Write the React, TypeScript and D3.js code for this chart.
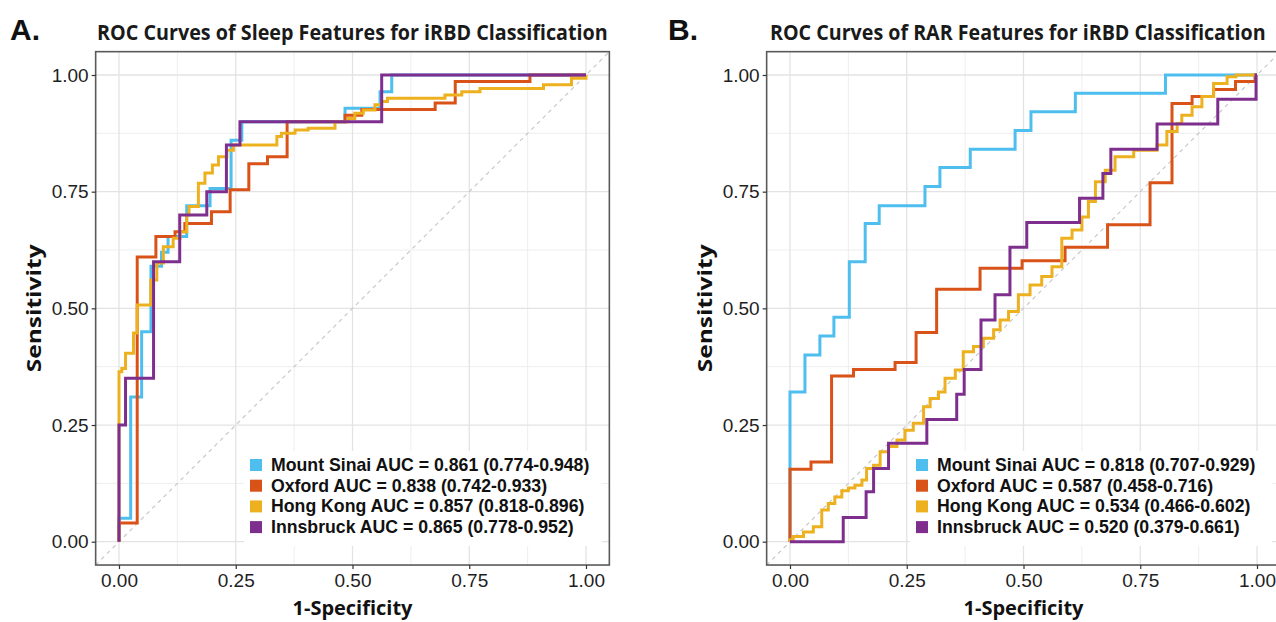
import React, { useEffect, useRef } from 'react';
import * as d3 from 'd3';

const W = 1276;
const H = 622;

const sites = ['Mount Sinai', 'Oxford', 'Hong Kong', 'Innsbruck'];
const siteColors = ['#4DBEEE', '#D95319', '#EDB120', '#7E2F8E'];
const majorTicks = [0, 0.25, 0.5, 0.75, 1];
const minorTicks = [0.125, 0.375, 0.625, 0.875];

// A. sleep features
const sleepAuc = ['0.861 (0.774-0.948)', '0.838 (0.742-0.933)', '0.857 (0.818-0.896)', '0.865 (0.778-0.952)'];
const sleepSinaiFpr = [0, 0.025, 0.0485, 0.0685, 0.091, 0.105, 0.145, 0.195, 0.24, 0.263, 0.484, 0.559, 0.584, 1];
const sleepSinaiTpr = [0, 0.05, 0.31, 0.45, 0.59, 0.62, 0.654, 0.72, 0.757, 0.86, 0.9, 0.929, 0.964, 1];
const sleepOxfordFpr = [0, 0.039, 0.079, 0.12, 0.141, 0.198, 0.238, 0.278, 0.318, 0.36, 0.484, 0.52, 0.677, 0.72, 0.88, 1];
const sleepOxfordTpr = [0, 0.04, 0.61, 0.654, 0.664, 0.682, 0.707, 0.754, 0.81, 0.825, 0.9, 0.914, 0.926, 0.94, 0.986, 1];
const sleepHongKongFpr = [0, 0.006, 0.014, 0.031, 0.039, 0.068, 0.081, 0.095, 0.116, 0.131, 0.145, 0.15, 0.17, 0.184, 0.2, 0.213, 0.231, 0.245, 0.259, 0.338, 0.348, 0.377, 0.405, 0.4625, 0.491, 0.505, 0.523, 0.548, 0.5625, 0.575, 0.698, 0.734, 0.773, 0.909, 0.969, 1, 1];
const sleepHongKongTpr = [0, 0.364, 0.371, 0.404, 0.447, 0.507, 0.561, 0.597, 0.632, 0.65, 0.664, 0.7, 0.718, 0.768, 0.79, 0.807, 0.825, 0.839, 0.85, 0.85, 0.868, 0.875, 0.882, 0.886, 0.9, 0.907, 0.918, 0.925, 0.936, 0.943, 0.95, 0.957, 0.964, 0.971, 0.979, 0.993, 1];
const sleepInnsbruckFpr = [0, 0.014, 0.074, 0.13, 0.188, 0.23, 0.259, 0.5625, 1];
const sleepInnsbruckTpr = [0, 0.25, 0.35, 0.6, 0.7, 0.75, 0.85, 0.9, 1];

// B. RAR features
const rarAuc = ['0.818 (0.707-0.929)', '0.587 (0.458-0.716)', '0.534 (0.466-0.602)', '0.520 (0.379-0.661)'];
const rarSinaiFpr = [0, 0.032, 0.064, 0.094, 0.127, 0.161, 0.191, 0.289, 0.321, 0.386, 0.482, 0.516, 0.611, 0.804, 1];
const rarSinaiTpr = [0, 0.321, 0.4, 0.441, 0.481, 0.6, 0.682, 0.72, 0.761, 0.802, 0.841, 0.881, 0.921, 0.961, 1];
const rarOxfordFpr = [0, 0.045, 0.089, 0.136, 0.225, 0.27, 0.314, 0.407, 0.497, 0.589, 0.68, 0.771, 0.818, 0.861, 0.907, 0.954, 0.996, 1];
const rarOxfordTpr = [0, 0.155, 0.171, 0.355, 0.369, 0.384, 0.448, 0.541, 0.586, 0.602, 0.631, 0.679, 0.769, 0.939, 0.954, 0.969, 0.986, 1];
const rarHongKongFpr = [0, 0.007, 0.029, 0.05, 0.068, 0.082, 0.096, 0.111, 0.125, 0.139, 0.154, 0.164, 0.179, 0.193, 0.211, 0.229, 0.246, 0.264, 0.286, 0.3, 0.318, 0.332, 0.354, 0.371, 0.393, 0.414, 0.436, 0.45, 0.468, 0.489, 0.514, 0.539, 0.561, 0.582, 0.604, 0.625, 0.639, 0.654, 0.675, 0.696, 0.736, 0.786, 0.807, 0.829, 0.839, 0.861, 0.882, 0.907, 0.936, 0.955, 1];
const rarHongKongTpr = [0, 0.004, 0.011, 0.021, 0.032, 0.068, 0.082, 0.096, 0.109, 0.115, 0.121, 0.132, 0.157, 0.164, 0.193, 0.204, 0.218, 0.239, 0.254, 0.289, 0.307, 0.321, 0.35, 0.368, 0.407, 0.418, 0.436, 0.454, 0.475, 0.493, 0.529, 0.55, 0.568, 0.589, 0.65, 0.668, 0.696, 0.729, 0.771, 0.796, 0.825, 0.839, 0.85, 0.879, 0.896, 0.914, 0.932, 0.954, 0.982, 0.996, 1];
const rarInnsbruckFpr = [0, 0.114, 0.163, 0.179, 0.211, 0.293, 0.357, 0.373, 0.409, 0.439, 0.471, 0.507, 0.62, 0.67, 0.687, 0.786, 0.916, 0.998, 1];
const rarInnsbruckTpr = [0, 0, 0.052, 0.107, 0.157, 0.211, 0.262, 0.316, 0.369, 0.475, 0.529, 0.631, 0.684, 0.736, 0.789, 0.841, 0.895, 0.948, 1];

const panels = [
  {
    id: 'a',
    letter: 'A.',
    letterX: 10,
    title: 'ROC Curves of Sleep Features for iRBD Classification',
    titleX: 97,
    titleW: 511,
    x0: 119,
    auc: sleepAuc,
    fpr: [sleepSinaiFpr, sleepOxfordFpr, sleepHongKongFpr, sleepInnsbruckFpr],
    tpr: [sleepSinaiTpr, sleepOxfordTpr, sleepHongKongTpr, sleepInnsbruckTpr],
    legendX: 244,
    legendW: 358
  },
  {
    id: 'b',
    letter: 'B.',
    letterX: 668,
    title: 'ROC Curves of RAR Features for iRBD Classification',
    titleX: 770,
    titleW: 496,
    x0: 790,
    auc: rarAuc,
    fpr: [rarSinaiFpr, rarOxfordFpr, rarHongKongFpr, rarInnsbruckFpr],
    tpr: [rarSinaiTpr, rarOxfordTpr, rarHongKongTpr, rarInnsbruckTpr],
    legendX: 910,
    legendW: 362
  }
];

// squeeze a bold text horizontally to the width it has in the picture
function fitText(svg, str, x, y, width, size, anchor, rotate) {
  const t = svg.append('text')
    .attr('font-family', 'Open Sans, sans-serif')
    .attr('font-weight', 'bold')
    .attr('font-size', size)
    .attr('fill', '#111')
    .attr('text-anchor', anchor)
    .text(str);
  const natural = t.node().getComputedTextLength() || width;
  const sx = width / natural;
  t.attr('transform', 'translate(' + x + ',' + y + ')' + (rotate ? ' rotate(-90)' : '') + ' scale(' + sx + ',1)');
  return t;
}

function drawPanel(svg, p) {
  const x = d3.scaleLinear().domain([0, 1]).range([p.x0, p.x0 + 467]);
  const y = d3.scaleLinear().domain([0, 1]).range([541.7, 75]);
  const left = x(-0.05), right = x(1.05), top = y(1.05), bottom = y(-0.05);
  const g = svg.append('g');

  g.append('clipPath')
    .attr('id', 'clip-' + p.id)
    .append('rect')
    .attr('x', left)
    .attr('y', top)
    .attr('width', right - left)
    .attr('height', bottom - top);

  g.append('rect')
    .attr('x', left).attr('y', top)
    .attr('width', right - left).attr('height', bottom - top)
    .attr('fill', '#fff');

  // grid
  const grid = g.append('g');
  minorTicks.forEach(t => {
    grid.append('line').attr('x1', x(t)).attr('x2', x(t)).attr('y1', top).attr('y2', bottom)
      .attr('stroke', '#eeeeee').attr('stroke-width', 1);
    grid.append('line').attr('x1', left).attr('x2', right).attr('y1', y(t)).attr('y2', y(t))
      .attr('stroke', '#eeeeee').attr('stroke-width', 1);
  });
  majorTicks.forEach(t => {
    grid.append('line').attr('x1', x(t)).attr('x2', x(t)).attr('y1', top).attr('y2', bottom)
      .attr('stroke', '#e3e3e3').attr('stroke-width', 1.3);
    grid.append('line').attr('x1', left).attr('x2', right).attr('y1', y(t)).attr('y2', y(t))
      .attr('stroke', '#e3e3e3').attr('stroke-width', 1.3);
  });

  const plot = g.append('g').attr('clip-path', 'url(#clip-' + p.id + ')');
  plot.append('line')
    .attr('x1', x(-0.05)).attr('y1', y(-0.05))
    .attr('x2', x(1.05)).attr('y2', y(1.05))
    .attr('stroke', '#c4c4c4').attr('stroke-width', 1.1)
    .attr('stroke-dasharray', '4,4');

  const line = d3.line()
    .x(d => x(d[0]))
    .y(d => y(d[1]))
    .curve(d3.curveStepBefore);

  sites.forEach((s, i) => {
    const pts = p.fpr[i].map((f, j) => [f, p.tpr[i][j]]);
    plot.append('path')
      .datum(pts)
      .attr('d', line)
      .attr('fill', 'none')
      .attr('stroke', siteColors[i])
      .attr('stroke-width', 3)
      .attr('stroke-linejoin', 'miter');
  });

  // legend
  const lg = g.append('g');
  lg.append('rect')
    .attr('x', p.legendX).attr('y', 451)
    .attr('width', p.legendW).attr('height', 95)
    .attr('fill', '#fff');
  sites.forEach((s, i) => {
    const ry = 465 + i * 20.7;
    lg.append('rect')
      .attr('x', p.legendX + 6).attr('y', ry - 6)
      .attr('width', 12).attr('height', 12)
      .attr('fill', siteColors[i]);
    lg.append('text')
      .attr('x', p.legendX + 27).attr('y', ry + 6)
      .attr('font-family', 'Liberation Sans, Arial, sans-serif')
      .attr('font-weight', 'bold')
      .attr('font-size', 17.7)
      .attr('fill', '#111')
      .text(s + ' AUC = ' + p.auc[i]);
  });

  // border
  g.append('rect')
    .attr('x', left).attr('y', top)
    .attr('width', right - left).attr('height', bottom - top)
    .attr('fill', 'none')
    .attr('stroke', '#5a5a5a')
    .attr('stroke-width', 1.6);

  // axes
  const fmt = d3.format('.2f');
  const xa = g.append('g')
    .attr('transform', 'translate(0,' + bottom + ')')
    .call(d3.axisBottom(x).tickValues(majorTicks).tickFormat(fmt).tickSize(4).tickPadding(4));
  const ya = g.append('g')
    .attr('transform', 'translate(' + left + ',0)')
    .call(d3.axisLeft(y).tickValues(majorTicks).tickFormat(fmt).tickSize(4).tickPadding(3));
  [xa, ya].forEach(a => {
    a.select('.domain').remove();
    a.selectAll('line').attr('stroke', '#333').attr('stroke-width', 1.2);
    a.selectAll('text')
      .attr('font-family', 'Liberation Sans, Arial, sans-serif')
      .attr('font-size', 19)
      .attr('fill', '#1e1e1e');
  });

  // titles
  svg.append('text')
    .attr('x', p.letterX).attr('y', 40)
    .attr('font-family', 'Liberation Sans, Arial, sans-serif')
    .attr('font-weight', 'bold')
    .attr('font-size', 30)
    .attr('fill', '#111')
    .text(p.letter);
  fitText(svg, p.title, p.titleX, 40, p.titleW, 21, 'start', false).attr('fill', '#1a1a1a');
  fitText(svg, '1-Specificity', (left + right) / 2, 615, 120, 20, 'middle', false);
  fitText(svg, 'Sensitivity', left - 55, (top + bottom) / 2, 128, 20, 'middle', true);
}

export default function App() {
  const ref = useRef(null);

  useEffect(() => {
    const svg = d3.select(ref.current);
    svg.selectAll('*').remove();
    panels.forEach(p => drawPanel(svg, p));
  }, []);

  return (
    <div style={{ position: 'absolute', left: 0, top: 0 }}>
      <svg ref={ref} width={W} height={H} style={{ display: 'block', background: '#fff' }} />
    </div>
  );
}
